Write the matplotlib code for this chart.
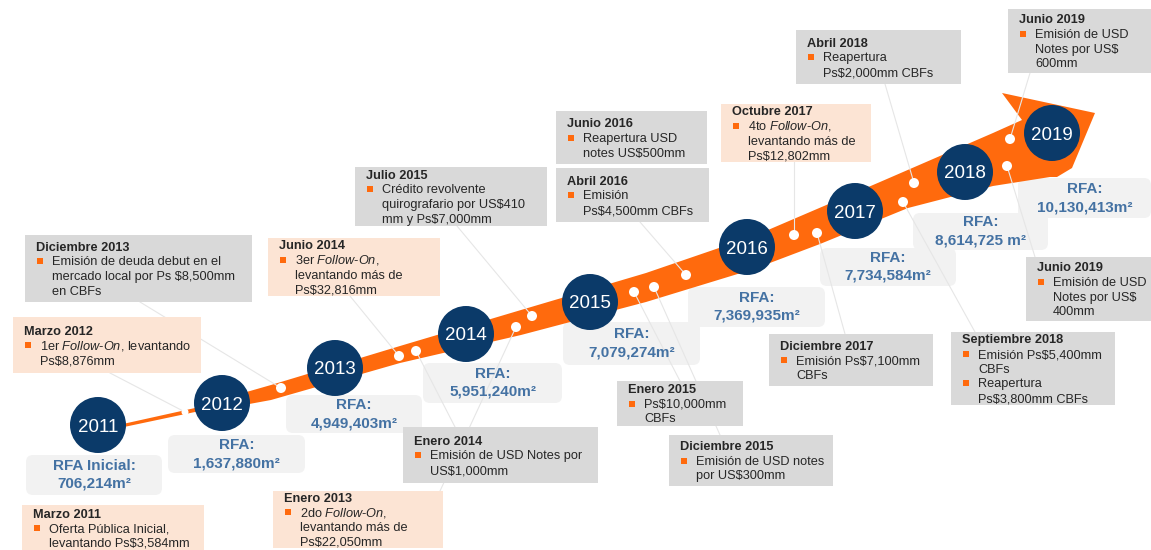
import matplotlib.pyplot as plt
from matplotlib.patches import Circle, Polygon, Rectangle, FancyBboxPatch

plt.rcParams['font.family'] = ['Liberation Sans', 'DejaVu Sans']
plt.rcParams['mathtext.fontset'] = 'custom'
plt.rcParams['mathtext.rm'] = 'Liberation Sans'
plt.rcParams['mathtext.it'] = 'Liberation Sans:italic'
plt.rcParams['mathtext.bf'] = 'Liberation Sans:bold'

# data
years = [2011, 2012, 2013, 2014, 2015, 2016, 2017, 2018, 2019]
rfa_m2 = [706214, 1637880, 4949403, 5951240, 7079274, 7369935, 7734584, 8614725, 10130413]
rfa_label = ['RFA Inicial:', 'RFA:', 'RFA:', 'RFA:', 'RFA:', 'RFA:', 'RFA:', 'RFA:', 'RFA:']
rfa_unit = ['m²', 'm²', 'm²', 'm²', 'm²', 'm²', 'm²', ' m²', 'm²']

event_titles = ['Marzo 2011', 'Marzo 2012', 'Diciembre 2013', 'Enero 2013', 'Junio 2014',
                'Enero 2014', 'Julio 2015', 'Enero 2015', 'Diciembre 2015', 'Junio 2016',
                'Abril 2016', 'Octubre 2017', 'Diciembre 2017', 'Abril 2018',
                'Septiembre 2018', 'Junio 2019', 'Junio 2019']
event_bullets = [
    [['Oferta Pública Inicial,', 'levantando Ps$3,584mm']],
    [['1er Follow-On, levantando', 'Ps$8,876mm']],
    [['Emisión de deuda debut en el', 'mercado local por Ps $8,500mm', 'en CBFs']],
    [['2do Follow-On,', 'levantando más de', 'Ps$22,050mm']],
    [['3er Follow-On,', 'levantando más de', 'Ps$32,816mm']],
    [['Emisión de USD Notes por', 'US$1,000mm']],
    [['Crédito revolvente', 'quirografario por US$410', 'mm y Ps$7,000mm']],
    [['Ps$10,000mm', 'CBFs']],
    [['Emisión de USD notes', 'por US$300mm']],
    [['Reapertura USD', 'notes US$500mm']],
    [['Emisión', 'Ps$4,500mm CBFs']],
    [['4to Follow-On,', 'levantando más de', 'Ps$12,802mm']],
    [['Emisión Ps$7,100mm', 'CBFs']],
    [['Reapertura', 'Ps$2,000mm CBFs']],
    [['Emisión Ps$5,400mm', 'CBFs'], ['Reapertura', 'Ps$3,800mm CBFs']],
    [['Emisión de USD', 'Notes por US$', '600mm']],
    [['Emisión de USD', 'Notes por US$', '400mm']],
]
event_kind = ['equity', 'equity', 'debt', 'equity', 'equity', 'debt', 'debt', 'debt', 'debt',
              'debt', 'debt', 'equity', 'debt', 'debt', 'debt', 'debt', 'debt']

# layout (pixel space)
circle_xy = [(98, 425), (222, 403), (335, 368), (466, 334), (590, 302),
             (747, 247), (855, 211), (965, 172), (1052, 133)]
rfa_box = [(26, 455, 162, 495), (168, 435, 305, 473), (286, 395, 422, 433),
           (423, 363, 562, 403), (563, 322, 700, 365), (688, 287, 825, 327),
           (820, 248, 956, 286), (913, 213, 1048, 250), (1018, 178, 1151, 218)]
event_box = [(22, 505, 204, 551), (13, 317, 201, 373), (25, 235, 252, 302),
             (273, 491, 443, 548), (268, 238, 440, 296), (403, 427, 598, 483),
             (355, 167, 547, 226), (617, 381, 743, 426), (669, 435, 833, 486),
             (556, 111, 707, 164), (556, 168, 709, 222), (721, 104, 871, 162),
             (769, 334, 933, 386), (796, 30, 961, 84), (951, 332, 1115, 405),
             (1008, 9, 1151, 73), (1026, 257, 1151, 321)]
band_top = [(98, 429.5), (195, 408), (222, 399), (271, 385), (400, 346), (521, 310),
            (646, 273), (754, 236), (880, 182), (993, 133), (1022, 120)]
head = [(1002, 93), (1095, 113), (1072, 168), (1057, 177)]
band_bottom = [(1050, 177), (993, 186), (908, 208), (820, 244), (754, 269), (646, 302),
               (521, 335), (400, 363), (271, 400), (222, 409), (195, 412), (98, 432.5)]
links = [((185, 412), (110, 373)), ((281, 388), (140, 302)), ((399, 356), (350, 296)),
         ((416, 351), (455, 427)), ((516, 327), (440, 491)), ((532, 316), (457, 226)),
         ((634, 292), (680, 381)), ((654, 287), (720, 435)), ((686, 275), (640, 222)),
         ((794, 235), (794, 162)), ((817, 233), (845, 334)), ((903, 202), (975, 332)),
         ((914, 183), (885, 84)), ((1007, 166), (1035, 257)), ((1010, 139), (1030, 73))]

orange = '#ff6a0d'
navy = '#0b3a69'
box_col = {'debt': '#d9d9d9', 'equity': '#fce4d4'}
txt_col = '#262626'
fs = 9.2

fig = plt.figure(figsize=(11.51, 5.5), dpi=100)
ax = fig.add_axes([0, 0, 1, 1])
ax.set_xlim(0, 1151)
ax.set_ylim(550, 0)
ax.axis('off')

# arrow band
ax.add_patch(Polygon(band_top + head + band_bottom, closed=True, fc=orange, ec='none', zorder=2))

# connectors and dots
for (p, q) in links:
    ax.plot([p[0], q[0]], [p[1], q[1]], color='#e6e6e6', lw=0.8, zorder=3)
    r = 3.5 if p[0] < 200 else 5
    ax.add_patch(Circle(p, r, fc='white', ec='none', zorder=4))

# RFA boxes
for i, (x0, y0, x1, y1) in enumerate(rfa_box):
    ax.add_patch(FancyBboxPatch((x0, y0), x1 - x0, y1 - y0,
                                boxstyle='round,pad=0,rounding_size=7',
                                fc='#f2f2f2', ec='none', zorder=1))
    cx, cy = (x0 + x1) / 2, (y0 + y1) / 2
    ax.text(cx, cy - 9, rfa_label[i], ha='center', va='center', fontsize=11,
            color='#4472a3', fontweight='bold', zorder=5)
    ax.text(cx, cy + 9, f"{rfa_m2[i]:,}{rfa_unit[i]}", ha='center', va='center',
            fontsize=11, color='#4472a3', fontweight='bold', zorder=5)


def fmt(s):
    s = s.replace('$', r'\$')
    return s.replace('Follow-On', r'$\mathit{Follow}$-$\mathit{On}$')


# event boxes
step = 14.7
for i, (x0, y0, x1, y1) in enumerate(event_box):
    ax.add_patch(Rectangle((x0, y0), x1 - x0, y1 - y0, fc=box_col[event_kind[i]],
                           ec='none', zorder=5))
    n = 1 + sum(len(b) for b in event_bullets[i])
    yc = (y0 + y1) / 2 - step * (n - 1) / 2
    ax.text(x0 + 11, yc + 4.3, event_titles[i], ha='left', va='baseline', fontsize=fs,
            fontweight='bold', color=txt_col, zorder=6)
    for b in event_bullets[i]:
        yc += step
        ax.add_patch(Rectangle((x0 + 12.5, yc - 3), 6, 6, fc=orange, ec='none', zorder=6))
        for line in b:
            ax.text(x0 + 27, yc + 4.3, fmt(line), ha='left', va='baseline', fontsize=fs,
                    color=txt_col, zorder=6)
            yc += step
        yc -= step

# year circles
for (cx, cy), yr in zip(circle_xy, years):
    ax.add_patch(Circle((cx, cy), 28, fc=navy, ec='none', zorder=7))
    ax.text(cx, cy + 6.5, str(yr), ha='center', va='baseline', fontsize=13.5,
            color='white', zorder=8)

fig.savefig('out.png', dpi=100)
